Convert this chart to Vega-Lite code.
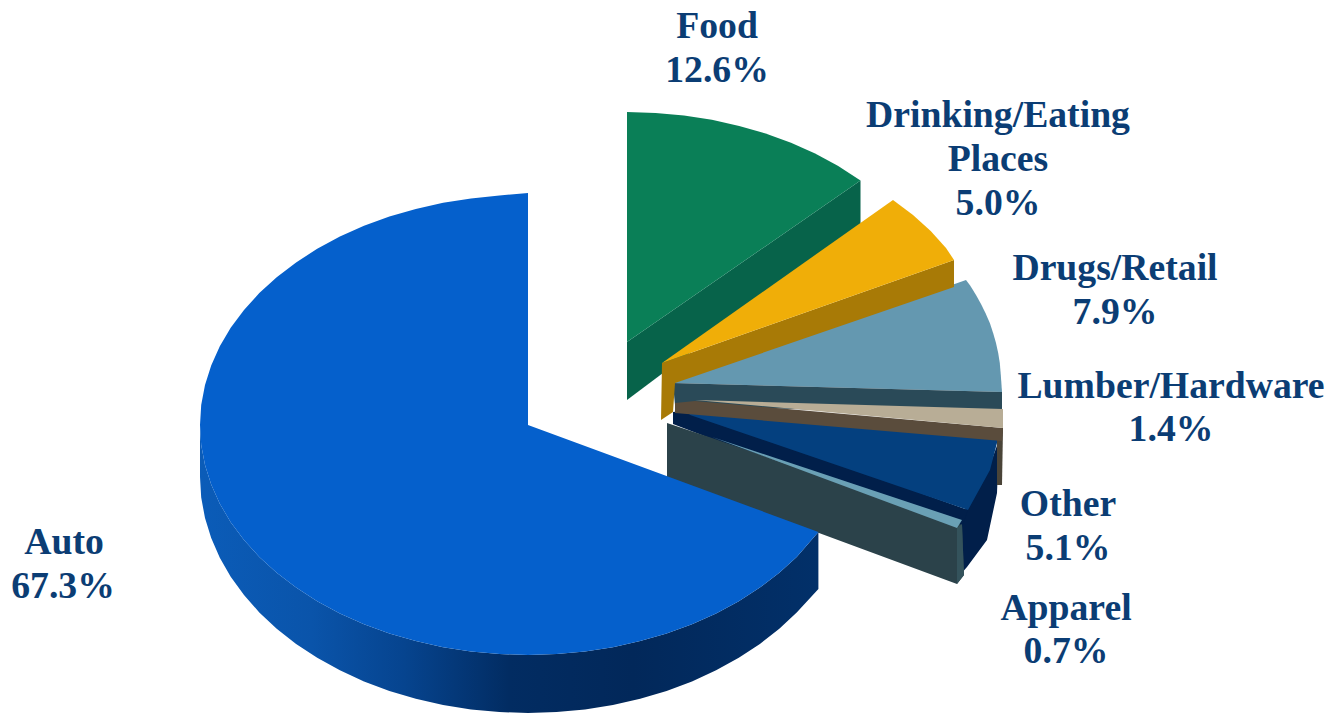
{"$schema":"https://vega.github.io/schema/vega-lite/v6.json","width":1333,"height":713,"padding":0,"autosize":"none","background":"white","config":{"view":{"stroke":null}},
"datasets":{"outline":[
{"part":"Food side","x":627,"y":342},{"part":"Food side","x":860.5,"y":180.5},{"part":"Food side","x":860.5,"y":225},{"part":"Food side","x":627,"y":400},
{"part":"Food top","x":627,"y":342},{"part":"Food top","x":627,"y":112},{"part":"Food top","x":655.6,"y":112.9},{"part":"Food top","x":684,"y":115.5},{"part":"Food top","x":711.9,"y":119.8},{"part":"Food top","x":739.2,"y":125.9},{"part":"Food top","x":765.6,"y":133.5},{"part":"Food top","x":791,"y":142.8},{"part":"Food top","x":815.1,"y":153.6},{"part":"Food top","x":837.8,"y":165.8},{"part":"Food top","x":860.5,"y":180.5},
{"part":"Drugs top","x":673,"y":383},{"part":"Drugs top","x":966,"y":280},{"part":"Drugs top","x":970.3,"y":285.8},{"part":"Drugs top","x":976,"y":295},{"part":"Drugs top","x":981,"y":304},{"part":"Drugs top","x":985.8,"y":313.8},{"part":"Drugs top","x":990,"y":323.5},{"part":"Drugs top","x":993.2,"y":333.2},{"part":"Drugs top","x":996,"y":343},{"part":"Drugs top","x":998.2,"y":353},{"part":"Drugs top","x":999.8,"y":363},{"part":"Drugs top","x":1000.8,"y":375},{"part":"Drugs top","x":1002,"y":392},
{"part":"Drugs side","x":673,"y":383},{"part":"Drugs side","x":1002,"y":392},{"part":"Drugs side","x":1002,"y":416},{"part":"Drugs side","x":675,"y":405},
{"part":"Drinking side","x":662,"y":363},{"part":"Drinking side","x":954,"y":260},{"part":"Drinking side","x":954,"y":287},{"part":"Drinking side","x":675,"y":383},{"part":"Drinking side","x":673,"y":412},{"part":"Drinking side","x":661,"y":420},
{"part":"Drinking top","x":662,"y":363},{"part":"Drinking top","x":893,"y":200},{"part":"Drinking top","x":913,"y":215},{"part":"Drinking top","x":930.7,"y":231},{"part":"Drinking top","x":946,"y":248},{"part":"Drinking top","x":954,"y":260},
{"part":"Other edge","x":999,"y":440},{"part":"Other edge","x":997,"y":493},{"part":"Other edge","x":987,"y":540},{"part":"Other edge","x":967,"y":567},{"part":"Other edge","x":960,"y":575},{"part":"Other edge","x":958,"y":522},{"part":"Other edge","x":968,"y":505},{"part":"Other edge","x":990,"y":465},
{"part":"Other side","x":673,"y":412},{"part":"Other side","x":690,"y":410},{"part":"Other side","x":968,"y":510},{"part":"Other side","x":963,"y":524},{"part":"Other side","x":712,"y":439},{"part":"Other side","x":673,"y":424},
{"part":"Other top","x":685,"y":409},{"part":"Other top","x":1000,"y":436},{"part":"Other top","x":997,"y":443},{"part":"Other top","x":990,"y":470},{"part":"Other top","x":968,"y":510},{"part":"Other top","x":690,"y":415},
{"part":"Lumber edge","x":997,"y":428},{"part":"Lumber edge","x":1003,"y":428},{"part":"Lumber edge","x":1002,"y":485},{"part":"Lumber edge","x":997,"y":485},
{"part":"Lumber side","x":675,"y":403},{"part":"Lumber side","x":695,"y":401},{"part":"Lumber side","x":1003,"y":428},{"part":"Lumber side","x":1002,"y":441},{"part":"Lumber side","x":675,"y":413},
{"part":"Lumber top","x":695,"y":400},{"part":"Lumber top","x":1003,"y":409},{"part":"Lumber top","x":1003,"y":428},
{"part":"Apparel side","x":667,"y":423},{"part":"Apparel side","x":712,"y":438},{"part":"Apparel side","x":962,"y":525},{"part":"Apparel side","x":964,"y":575},{"part":"Apparel side","x":957,"y":584},{"part":"Apparel side","x":819,"y":533},{"part":"Apparel side","x":667,"y":482},
{"part":"Apparel edge","x":957,"y":528},{"part":"Apparel edge","x":962,"y":524},{"part":"Apparel edge","x":964,"y":575},{"part":"Apparel edge","x":957,"y":584},
{"part":"Apparel top","x":712,"y":437},{"part":"Apparel top","x":962,"y":520},{"part":"Apparel top","x":957,"y":528},
{"part":"Auto side","x":818.4,"y":531.9},{"part":"Auto side","x":796.7,"y":556.9},{"part":"Auto side","x":779.3,"y":572.8},{"part":"Auto side","x":759.9,"y":587.6},{"part":"Auto side","x":738.8,"y":601.2},{"part":"Auto side","x":716.1,"y":613.4},{"part":"Auto side","x":692,"y":624.2},{"part":"Auto side","x":666.6,"y":633.5},{"part":"Auto side","x":640.2,"y":641.1},{"part":"Auto side","x":612.9,"y":647.2},{"part":"Auto side","x":585,"y":651.5},{"part":"Auto side","x":556.6,"y":654.1},{"part":"Auto side","x":528,"y":655},{"part":"Auto side","x":499.4,"y":654.1},{"part":"Auto side","x":471,"y":651.5},{"part":"Auto side","x":443.1,"y":647.2},{"part":"Auto side","x":415.8,"y":641.1},{"part":"Auto side","x":389.4,"y":633.5},{"part":"Auto side","x":364,"y":624.2},{"part":"Auto side","x":339.9,"y":613.4},{"part":"Auto side","x":317.2,"y":601.2},{"part":"Auto side","x":296.1,"y":587.6},{"part":"Auto side","x":276.7,"y":572.8},{"part":"Auto side","x":259.3,"y":556.9},{"part":"Auto side","x":244,"y":540},{"part":"Auto side","x":230.7,"y":522.2},{"part":"Auto side","x":219.8,"y":503.7},{"part":"Auto side","x":211.2,"y":484.5},{"part":"Auto side","x":205,"y":464.9},{"part":"Auto side","x":201.2,"y":445},{"part":"Auto side","x":200,"y":425},
{"part":"Auto side","x":200,"y":477},{"part":"Auto side","x":201.2,"y":497.6},{"part":"Auto side","x":205,"y":518},{"part":"Auto side","x":211.2,"y":538},{"part":"Auto side","x":219.8,"y":557.7},{"part":"Auto side","x":230.7,"y":576.7},{"part":"Auto side","x":244,"y":595},{"part":"Auto side","x":259.3,"y":612.4},{"part":"Auto side","x":276.7,"y":628.7},{"part":"Auto side","x":296.1,"y":643.9},{"part":"Auto side","x":317.2,"y":657.8},{"part":"Auto side","x":339.9,"y":670.3},{"part":"Auto side","x":364,"y":681.4},{"part":"Auto side","x":389.4,"y":690.9},{"part":"Auto side","x":415.8,"y":698.8},{"part":"Auto side","x":443.1,"y":705},{"part":"Auto side","x":471,"y":709.4},{"part":"Auto side","x":499.4,"y":712.1},{"part":"Auto side","x":528,"y":713},{"part":"Auto side","x":556.6,"y":712.1},{"part":"Auto side","x":585,"y":709.4},{"part":"Auto side","x":612.9,"y":705},{"part":"Auto side","x":640.2,"y":698.8},{"part":"Auto side","x":666.6,"y":690.9},{"part":"Auto side","x":692,"y":681.4},{"part":"Auto side","x":716.1,"y":670.3},{"part":"Auto side","x":738.8,"y":657.8},{"part":"Auto side","x":759.9,"y":643.9},{"part":"Auto side","x":779.3,"y":628.7},{"part":"Auto side","x":796.7,"y":612.4},{"part":"Auto side","x":818.4,"y":589},
{"part":"Auto top","x":528,"y":425},{"part":"Auto top","x":818.4,"y":531.9},{"part":"Auto top","x":796.7,"y":556.9},{"part":"Auto top","x":779.3,"y":572.8},{"part":"Auto top","x":759.9,"y":587.6},{"part":"Auto top","x":738.8,"y":601.2},{"part":"Auto top","x":716.1,"y":613.4},{"part":"Auto top","x":692,"y":624.2},{"part":"Auto top","x":666.6,"y":633.5},{"part":"Auto top","x":640.2,"y":641.1},{"part":"Auto top","x":612.9,"y":647.2},{"part":"Auto top","x":585,"y":651.5},{"part":"Auto top","x":556.6,"y":654.1},{"part":"Auto top","x":528,"y":655},{"part":"Auto top","x":499.4,"y":654.1},{"part":"Auto top","x":471,"y":651.5},{"part":"Auto top","x":443.1,"y":647.2},{"part":"Auto top","x":415.8,"y":641.1},{"part":"Auto top","x":389.4,"y":633.5},{"part":"Auto top","x":364,"y":624.2},{"part":"Auto top","x":339.9,"y":613.4},{"part":"Auto top","x":317.2,"y":601.2},{"part":"Auto top","x":296.1,"y":587.6},{"part":"Auto top","x":276.7,"y":572.8},{"part":"Auto top","x":259.3,"y":556.9},{"part":"Auto top","x":244,"y":540},{"part":"Auto top","x":230.7,"y":522.2},{"part":"Auto top","x":219.8,"y":503.7},{"part":"Auto top","x":211.2,"y":484.5},{"part":"Auto top","x":205,"y":464.9},{"part":"Auto top","x":201.2,"y":445},{"part":"Auto top","x":200,"y":425},{"part":"Auto top","x":201.2,"y":405},{"part":"Auto top","x":205,"y":385.1},{"part":"Auto top","x":211.2,"y":365.5},{"part":"Auto top","x":219.8,"y":346.3},{"part":"Auto top","x":230.7,"y":327.8},{"part":"Auto top","x":244,"y":310},{"part":"Auto top","x":259.3,"y":293.1},{"part":"Auto top","x":276.7,"y":277.2},{"part":"Auto top","x":296.1,"y":262.4},{"part":"Auto top","x":317.2,"y":248.8},{"part":"Auto top","x":339.9,"y":236.6},{"part":"Auto top","x":364,"y":225.8},{"part":"Auto top","x":389.4,"y":216.5},{"part":"Auto top","x":415.8,"y":208.9},{"part":"Auto top","x":443.1,"y":202.8},{"part":"Auto top","x":471,"y":198.5},{"part":"Auto top","x":499.4,"y":195.4},{"part":"Auto top","x":528,"y":193}
],
"labels":[
{"text":"Food","x":717,"y":27},{"text":"12.6%","x":717,"y":71},
{"text":"Drinking/Eating","x":998,"y":116},{"text":"Places","x":998,"y":160},{"text":"5.0%","x":998,"y":204},
{"text":"Drugs/Retail","x":1115,"y":269},{"text":"7.9%","x":1115,"y":313},
{"text":"Lumber/Hardware","x":1171,"y":387},{"text":"1.4%","x":1171,"y":430},
{"text":"Other","x":1068,"y":505},{"text":"5.1%","x":1068,"y":549},
{"text":"Apparel","x":1066,"y":609},{"text":"0.7%","x":1066,"y":652},
{"text":"Auto","x":64,"y":543},{"text":"67.3%","x":63,"y":587}
]},
"encoding":{
"x":{"field":"x","type":"quantitative","axis":null,"scale":{"domain":[0,1333],"nice":false,"zero":false}},
"y":{"field":"y","type":"quantitative","axis":null,"scale":{"domain":[713,0],"nice":false,"zero":false}}
},
"layer":[
{"data":{"name":"outline"},"transform":[{"filter":"datum.part !== 'Auto side' && datum.part !== 'Auto top'"}],
"mark":{"type":"line","filled":true,"interpolate":"linear-closed"},
"encoding":{"order":{"value":null},"color":{"field":"part","type":"nominal","legend":null,"scale":{
"domain":["Food side","Food top","Drugs top","Drugs side","Drinking side","Drinking top","Lumber edge","Lumber side","Lumber top","Other edge","Other side","Other top","Apparel side","Apparel edge","Apparel top"],
"range":["#07634a","#0a7f57","#6498b0","#2a4a58","#a87a06","#f0ae08","#4a4438","#5a4c3c","#b8ad96","#011f4a","#011f4a","#04407f","#2b424a","#34535c","#6aa0b5"]}}}},
{"data":{"name":"outline"},"transform":[{"filter":"datum.part === 'Auto side'"}],
"mark":{"type":"line","filled":true,"interpolate":"linear-closed","fill":{"gradient":"linear","x1":0,"y1":0,"x2":1,"y2":0,"stops":[{"offset":0,"color":"#0b5cb8"},{"offset":0.18,"color":"#0a54aa"},{"offset":0.33,"color":"#06448f"},{"offset":0.5,"color":"#022c62"},{"offset":0.7,"color":"#02285a"},{"offset":1,"color":"#023069"}]}},
"encoding":{"order":{"value":null}}},
{"data":{"name":"outline"},"transform":[{"filter":"datum.part === 'Auto top'"}],
"mark":{"type":"line","filled":true,"interpolate":"linear-closed","fill":"#0560cc"},
"encoding":{"order":{"value":null}}},
{"data":{"name":"labels"},"mark":{"type":"text","font":"Liberation Serif","fontWeight":"bold","fontSize":37.7,"color":"#0b3d74","align":"center","baseline":"middle"},
"encoding":{"text":{"field":"text","type":"nominal"}}}
]}
